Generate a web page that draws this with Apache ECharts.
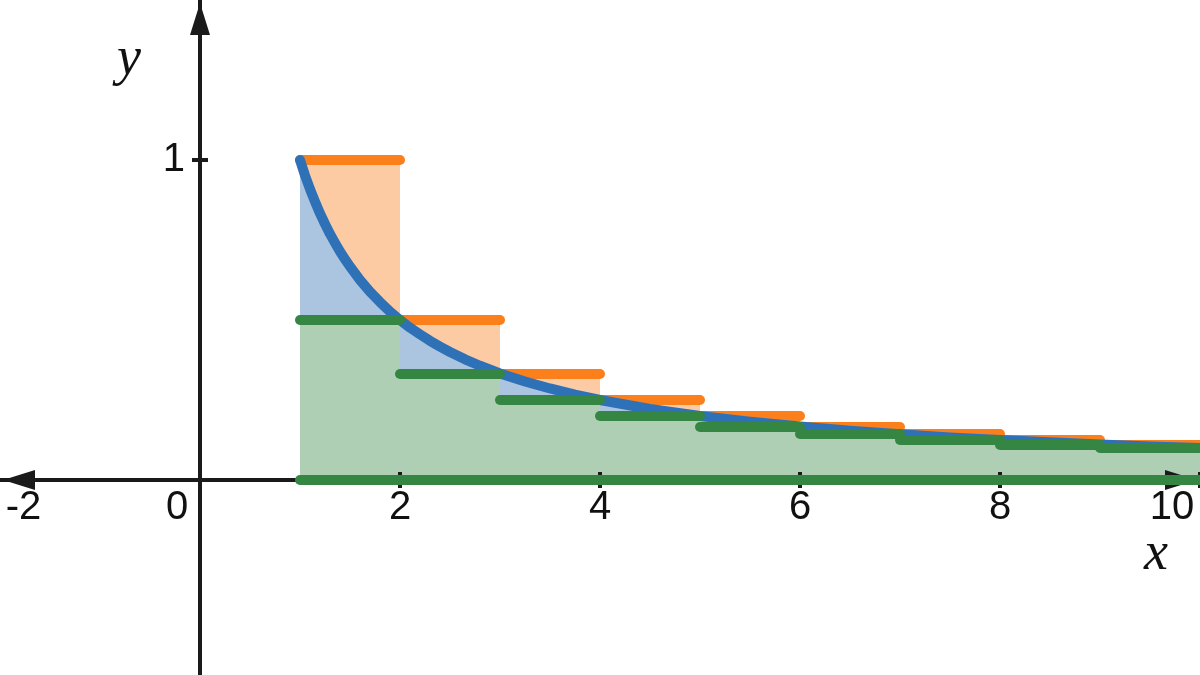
<!DOCTYPE html>
<html>
<head>
<meta charset="utf-8">
<script src="https://cdn.jsdelivr.net/npm/echarts@6/dist/echarts.min.js"></script>
<style>
html,body{margin:0;padding:0;background:#ffffff;}
#chart{width:1200px;height:675px;}
</style>
</head>
<body>
<div id="chart"></div>
<script>
// ---- data ----
const stepX = [1, 2, 3, 4, 5, 6, 7, 8, 9, 10];
const upperValues = [1, 0.5, 0.333, 0.25, 0.2, 0.167, 0.143, 0.125, 0.111];
const lowerValues = [0.5, 0.333, 0.25, 0.2, 0.167, 0.143, 0.125, 0.111, 0.1];
const curveX = [1, 1.05, 1.1, 1.15, 1.2, 1.25, 1.3, 1.35, 1.4, 1.45, 1.5, 1.6, 1.7, 1.8, 1.9, 2, 2.1, 2.2, 2.3, 2.4, 2.5, 2.65, 2.8, 3, 3.25, 3.5, 3.75, 4, 4.5, 5, 5.5, 6, 6.5, 7, 7.5, 8, 8.5, 9, 9.5, 10];
const curveY = [1, 0.952, 0.909, 0.870, 0.833, 0.8, 0.769, 0.741, 0.714, 0.690, 0.667, 0.625, 0.588, 0.556, 0.526, 0.5, 0.476, 0.455, 0.435, 0.417, 0.4, 0.377, 0.357, 0.333, 0.308, 0.286, 0.267, 0.25, 0.222, 0.2, 0.182, 0.167, 0.154, 0.143, 0.133, 0.125, 0.118, 0.111, 0.105, 0.1];
const baselineY = 0;
const xLabelValues = [-2, 0, 2, 4, 6, 8, 10];
const xTickValues = [2, 4, 6, 8, 10];
const yLabelValues = [1];
const yTickValues = [1];
const xMin = -2, xMax = 10;
const yMin = -0.609375, yMax = 1.5;

// ---- styles / layout ----
const W = 1200, H = 675;
const AXIS = '#1a1a1a';
const ORANGE = '#fb801c', ORANGE_FILL = '#fccba4';
const BLUE = '#2e71b7', BLUE_FILL = '#abc5e1';
const GREEN = '#358643', GREEN_FILL = '#aecfb4';
const LABEL_FONT = 'Liberation Sans';
const LABEL_SIZE = 40;

// pixel position of the zero lines inside the full-size grid
const zeroXpx = (0 - xMin) / (xMax - xMin) * W;   // distance from left
const zeroYpx = (yMax - 0) / (yMax - yMin) * H;   // distance from top

// ---- derived series data ----
function stepArea(vals) {
  const pts = vals.map((v, i) => [stepX[i], v]);
  pts.push([stepX[stepX.length - 1], vals[vals.length - 1]]);
  return pts;
}
function segments(vals) {
  return vals.map((v, i) => ({ coords: [[stepX[i], v], [stepX[i + 1], v]] }));
}
const curveData = curveX.map((x, i) => [x, curveY[i]]);
const baselineSeg = [{ coords: [[stepX[0], baselineY], [stepX[stepX.length - 1], baselineY]] }];

const labelStyle = { fontSize: LABEL_SIZE, fontFamily: LABEL_FONT, color: '#111' };
const tickStyle = { color: AXIS, width: 4 };

const chart = echarts.init(document.getElementById('chart'), null, { renderer: 'canvas' });
chart.setOption({
  animation: false,
  backgroundColor: '#ffffff',
  grid: { left: 0, right: 0, top: 0, bottom: 0, containLabel: false, outerBoundsMode: 'none' },
  xAxis: [
    {
      type: 'value', min: xMin, max: xMax, position: 'bottom', offset: -(H - zeroYpx), z: 2,
      splitLine: { show: false },
      axisLine: {
        show: true, onZero: false,
        lineStyle: { color: AXIS, width: 4 },
        symbol: ['triangle', 'triangle'], symbolSize: [20, 32], symbolOffset: [19, -19]
      },
      axisTick: { show: true, customValues: xTickValues, length: 8, lineStyle: tickStyle },
      axisLabel: {
        show: true, customValues: xLabelValues, margin: 8, interval: 0,
        fontSize: LABEL_SIZE, fontFamily: LABEL_FONT, color: '#111',
        formatter: function (v) {
          const key = v === -2 ? 'm' : (v === 0 ? 'z' : (v === 10 ? 't' : 'n'));
          return '{' + key + '|' + v + '}';
        },
        rich: {
          n: labelStyle,
          z: Object.assign({ padding: [0, 46, 0, 0] }, labelStyle),
          m: Object.assign({ padding: [0, 0, 0, 47] }, labelStyle),
          t: Object.assign({ padding: [0, 56, 0, 0] }, labelStyle)
        }
      }
    },
    {
      type: 'value', min: xMin, max: xMax, position: 'top', offset: -zeroYpx, z: 2,
      splitLine: { show: false },
      axisLine: { show: false, onZero: false },
      axisTick: { show: true, customValues: xTickValues, length: 8, lineStyle: tickStyle },
      axisLabel: { show: false }
    }
  ],
  yAxis: [
    {
      type: 'value', min: yMin, max: yMax, position: 'left', offset: -zeroXpx, z: 2,
      splitLine: { show: false },
      axisLine: {
        show: true, onZero: false,
        lineStyle: { color: AXIS, width: 4 },
        symbol: ['none', 'triangle'], symbolSize: [20, 32], symbolOffset: [0, -19]
      },
      axisTick: { show: true, customValues: yTickValues, length: 8, lineStyle: tickStyle },
      axisLabel: { show: true, customValues: yLabelValues, margin: 15, fontSize: LABEL_SIZE, fontFamily: LABEL_FONT, color: '#111' }
    },
    {
      type: 'value', min: yMin, max: yMax, position: 'right', offset: -(W - zeroXpx), z: 2,
      splitLine: { show: false },
      axisLine: { show: false, onZero: false },
      axisTick: { show: true, customValues: yTickValues, length: 8, lineStyle: tickStyle },
      axisLabel: { show: false }
    }
  ],
  graphic: [
    { type: 'text', x: 1156, y: 555, style: { text: 'x', font: 'italic 54px "Liberation Serif"', fill: '#111', align: 'center', verticalAlign: 'middle' } },
    { type: 'text', x: 129, y: 60, style: { text: 'y', font: 'italic 54px "Liberation Serif"', fill: '#111', align: 'center', verticalAlign: 'middle' } }
  ],
  series: [
    { type: 'line', name: 'upperArea', data: stepArea(upperValues), step: 'end', symbol: 'none', z: 1,
      lineStyle: { width: 0, opacity: 0 }, areaStyle: { color: ORANGE_FILL, opacity: 1 } },
    { type: 'line', name: 'curveArea', data: curveData, smooth: false, symbol: 'none', z: 1,
      lineStyle: { width: 0, opacity: 0 }, areaStyle: { color: BLUE_FILL, opacity: 1 } },
    { type: 'line', name: 'lowerArea', data: stepArea(lowerValues), step: 'end', symbol: 'none', z: 1,
      lineStyle: { width: 0, opacity: 0 }, areaStyle: { color: GREEN_FILL, opacity: 1 } },
    { type: 'lines', name: 'upperSteps', coordinateSystem: 'cartesian2d', data: segments(upperValues), z: 3,
      lineStyle: { color: ORANGE, width: 10, cap: 'round', opacity: 1, curveness: 0 } },
    { type: 'line', name: 'curve', data: curveData, smooth: false, symbol: 'none', z: 4,
      lineStyle: { color: BLUE, width: 10, cap: 'round', join: 'round' } },
    { type: 'lines', name: 'lowerSteps', coordinateSystem: 'cartesian2d', data: segments(lowerValues).concat(baselineSeg), z: 5,
      lineStyle: { color: GREEN, width: 10, cap: 'round', opacity: 1, curveness: 0 } }
  ]
});
</script>
</body>
</html>
